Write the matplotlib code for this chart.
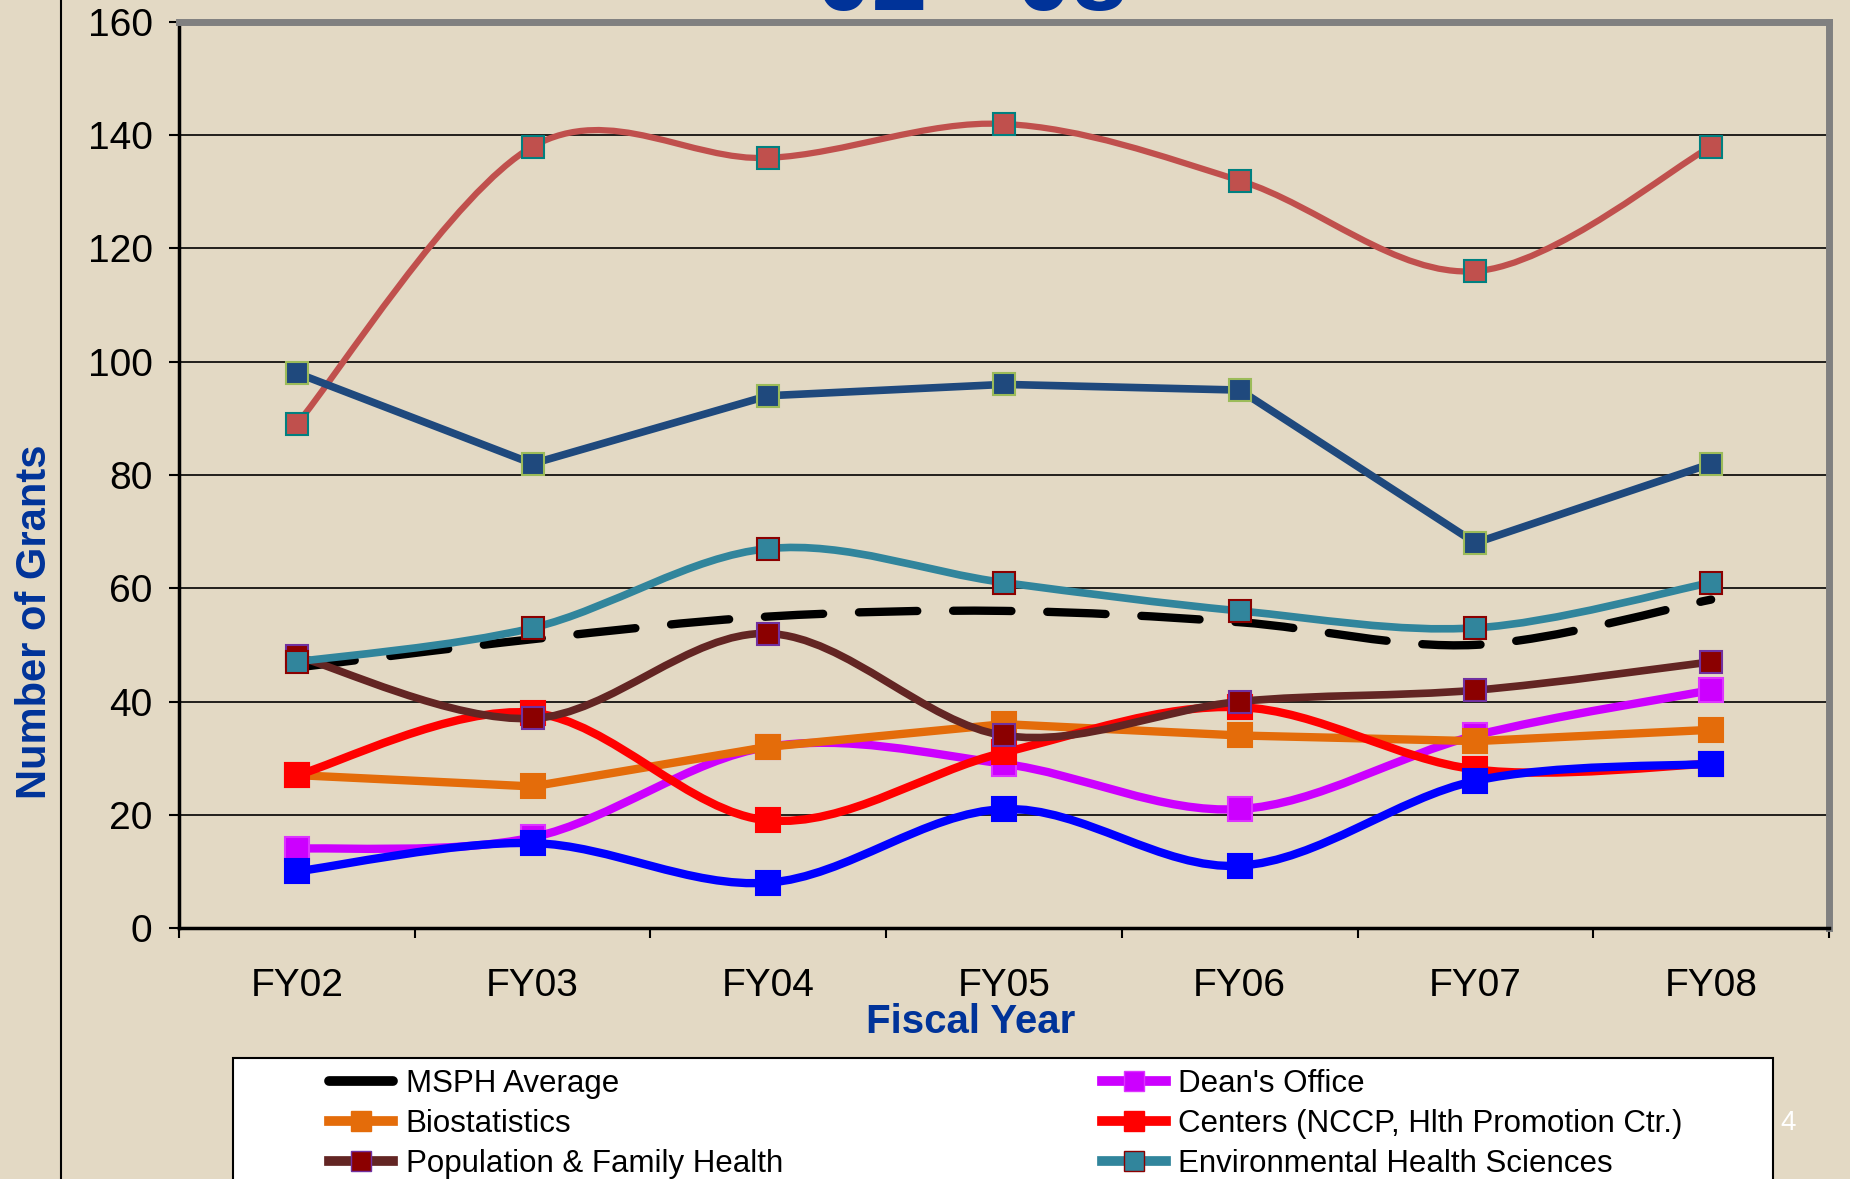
import numpy as np
import matplotlib.pyplot as plt
from matplotlib.path import Path
from matplotlib.patches import PathPatch, Rectangle
from matplotlib.lines import Line2D

plt.rcParams['font.family'] = ['Liberation Sans', 'DejaVu Sans']

years = ['FY02', 'FY03', 'FY04', 'FY05', 'FY06', 'FY07', 'FY08']

# series, in the order they are drawn
msph_avg = [46, 51, 55, 56, 54, 50, 58]
deans_office = [14, 16, 32, 29, 21, 34, 42]
biostatistics = [27, 25, 32, 36, 34, 33, 35]
centers = [27, 38, 19, 31, 39, 28, 29]
pop_family = [48, 37, 52, 34, 40, 42, 47]
env_health = [47, 53, 67, 61, 56, 53, 61]
series_top = [89, 138, 136, 142, 132, 116, 138]      # not shown in the visible legend
series_navy = [98, 82, 94, 96, 95, 68, 82]           # not shown in the visible legend
series_blue = [10, 15, 8, 21, 11, 26, 29]            # not shown in the visible legend

bg = '#E3D9C4'
blue_txt = '#003399'

fig = plt.figure(figsize=(18.5, 11.79), dpi=100)
fig.patch.set_facecolor(bg)
ax = fig.add_axes([179/1850, 1 - 928/1179, 1650/1850, 906/1179])
ax.set_facecolor(bg)

x = np.arange(len(years))


def smooth_path(xs, ys):
    # bezier segments through the points (like Excel's smoothed line)
    pts = np.column_stack([xs, ys]).astype(float)
    n = len(pts)
    verts = [pts[0]]
    codes = [Path.MOVETO]
    for i in range(n - 1):
        p0 = pts[max(i - 1, 0)]
        p1 = pts[i]
        p2 = pts[i + 1]
        p3 = pts[min(i + 2, n - 1)]
        verts += [p1 + (p2 - p0) / 6, p2 - (p3 - p1) / 6, p2]
        codes += [Path.CURVE4] * 3
    return Path(verts, codes)


def draw(vals, color, lw, mfc, mec, ms=16, smooth=True, ls='-', z=3):
    if smooth:
        patch = PathPatch(smooth_path(x, vals), facecolor='none', edgecolor=color,
                          linewidth=lw, linestyle=ls, capstyle='round', zorder=z)
        ax.add_patch(patch)
    else:
        ax.plot(x, vals, color=color, lw=lw, zorder=z)
    if mfc is not None:
        ax.plot(x, vals, ls='none', marker='s', ms=ms, mfc=mfc, mec=mec, mew=1.5, zorder=z + 0.5)


draw(msph_avg, 'black', 6, None, None, ls=(0, (7, 4.3)), z=3)
draw(deans_office, '#CC00FF', 6, '#CC00FF', '#DD33FF', ms=17, z=4)
draw(biostatistics, '#E46C0A', 6, '#E46C0A', '#E46C0A', ms=17, smooth=False, z=5)
draw(centers, '#FF0000', 6, '#FF0000', '#FF0000', ms=17, z=6)
draw(pop_family, '#632523', 5.5, '#8B0000', '#7030A0', z=7)
draw(env_health, '#31859C', 5.5, '#31859C', '#8B0000', z=8)
draw(series_top, '#C0504D', 4.5, '#C0504D', '#008080', z=9)
draw(series_navy, '#1F497D', 5.5, '#1F497D', '#9BBB59', smooth=False, z=10)
draw(series_blue, '#0000FF', 6, '#0000FF', '#0000FF', ms=17, z=11)

ax.set_xlim(-0.5, 6.5)
ax.set_ylim(0, 160)
ax.set_yticks(np.arange(0, 161, 20))
ax.set_xticks(np.arange(-0.5, 6.6, 1))
ax.set_xticklabels([])
ax.set_xticks(x, minor=True)
ax.set_xticklabels(years, minor=True)
ax.tick_params(axis='x', which='major', direction='out', length=7, width=1.5)
ax.tick_params(axis='x', which='minor', length=0, pad=29, labelsize=28)
ax.tick_params(axis='y', direction='out', length=7, width=1.5, pad=12, labelsize=28)
ax.yaxis.grid(True, color='black', lw=1.2)
ax.set_axisbelow(True)
for g in ax.get_ygridlines()[0::8]:
    g.set_visible(False)

ax.spines['top'].set_color('#808080')
ax.spines['right'].set_color('#808080')
ax.spines['top'].set_linewidth(5)
ax.spines['right'].set_linewidth(5)
ax.spines['left'].set_linewidth(2.5)
ax.spines['bottom'].set_linewidth(2.5)

fig.text(35/1850, 1 - 622/1179, 'Number of Grants', rotation=90, color=blue_txt,
         fontsize=30, fontweight='bold', ha='center', va='center')
fig.text(971/1850, 1 - 1022/1179, 'Fiscal Year', color=blue_txt,
         fontsize=29, fontweight='bold', ha='center', va='center')

# clipped slide title at the top
fig.text(972/1850, 1 - 10/1179, '02 - 08', color=blue_txt, fontsize=72,
         fontweight='bold', ha='center', va='baseline')

# slide decoration line on the left
fig.add_artist(Line2D([61/1850, 61/1850], [0, 1], color='black', lw=1.5))

# legend box (runs off the bottom of the slide)
fig.add_artist(Rectangle((233/1850, -0.02), 1540/1850, 1 - 1058/1179 + 0.02,
                         transform=fig.transFigure, facecolor='white',
                         edgecolor='black', lw=1.5, zorder=5))

handles = [
    Line2D([], [], color='black', lw=7, solid_capstyle='round'),
    Line2D([], [], color='#E46C0A', lw=7, marker='s', ms=15, mfc='#E46C0A', mec='#E46C0A'),
    Line2D([], [], color='#632523', lw=7, marker='s', ms=15, mfc='#8B0000', mec='#7030A0'),
    Line2D([], [], color='#CC00FF', lw=7, marker='s', ms=15, mfc='#CC00FF', mec='#DD33FF'),
    Line2D([], [], color='#FF0000', lw=7, marker='s', ms=15, mfc='#FF0000', mec='#FF0000'),
    Line2D([], [], color='#31859C', lw=7, marker='s', ms=15, mfc='#31859C', mec='#8B0000'),
]
labels = ['MSPH Average', 'Biostatistics', 'Population & Family Health',
          "Dean's Office", 'Centers (NCCP, Hlth Promotion Ctr.)', 'Environmental Health Sciences']
leg = fig.legend(handles, labels, loc='upper left', bbox_to_anchor=(329/1850, 1 - 1069/1179),
                 ncol=2, frameon=False, fontsize=22.5, handlelength=2.05, handletextpad=0.4,
                 columnspacing=10.2, labelspacing=0.32, borderpad=0, borderaxespad=0)
leg.set_zorder(6)

fig.text(1788/1850, 1 - 1123/1179, '4', color='white', fontsize=20, ha='center', va='center')

fig.savefig('out.png', dpi=100, facecolor=fig.get_facecolor())
